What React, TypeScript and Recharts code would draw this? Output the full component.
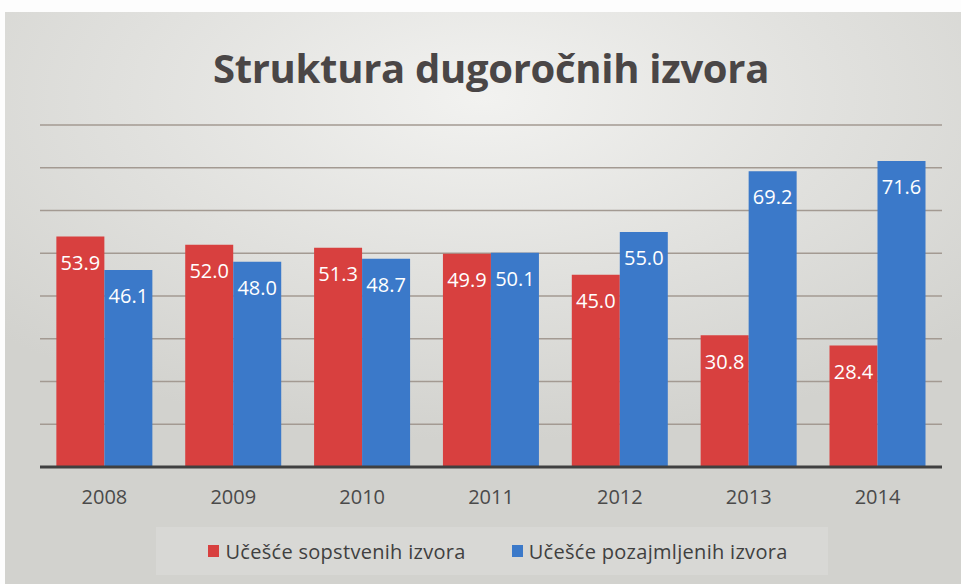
import React from "react";
import { BarChart, Bar, XAxis, YAxis, CartesianGrid, Legend, LabelList } from "recharts";

const years = ["2008", "2009", "2010", "2011", "2012", "2013", "2014"];
const sopstveni = [53.9, 52.0, 51.3, 49.9, 45.0, 30.8, 28.4];
const pozajmljeni = [46.1, 48.0, 48.7, 50.1, 55.0, 69.2, 71.6];
const yTicks = [0, 10, 20, 30, 40, 50, 60, 70, 80];
const seriesNames = ["Učešće sopstvenih izvora", "Učešće pozajmljenih izvora"];
const title = "Struktura dugoročnih izvora";

const RED = "#d8403f";
const BLUE = "#3b79c9";

const data = years.map((y, i) => ({ year: y, s: sopstveni[i], p: pozajmljeni[i] }));

const LegendContent = () => (
  <div style={{ width: 961, height: 48, position: "relative" }}>
    <div
      style={{
        position: "absolute",
        left: 156,
        width: 672,
        height: 48,
        background: "rgba(255,255,255,0.14)",
        display: "flex",
        alignItems: "center",
        justifyContent: "center",
        fontFamily: "'Open Sans', sans-serif",
        fontSize: 20,
        color: "#404040",
        gap: 46,
        paddingLeft: 12,
        boxSizing: "border-box",
      }}
    >
      {[RED, BLUE].map((c, i) => (
        <div key={i} style={{ display: "flex", alignItems: "center" }}>
          <div style={{ width: 11, height: 12, background: c, marginRight: 6 }} />
          <span style={{ letterSpacing: 0.3 }}>{seriesNames[i]}</span>
        </div>
      ))}
    </div>
  </div>
);

export default function App() {
  return (
    <div
      style={{
        position: "absolute",
        left: 0,
        top: 0,
        width: 961,
        height: 584,
        background: "#fdfdfd",
        overflow: "hidden",
      }}
    >
      <div
        style={{
          position: "absolute",
          left: 5,
          top: 12,
          width: 956,
          height: 572,
          background:
            "radial-gradient(ellipse 70% 60% at 50% 15%, #f2f2f0 0%, #e0e0dd 55%, #d2d2ce 100%)",
        }}
      />
      <div
        style={{
          position: "absolute",
          left: 0,
          top: 40,
          width: 982,
          textAlign: "center",
          fontFamily: "'Open Sans', sans-serif",
          fontWeight: 700,
          fontSize: 40,
          color: "#4a4646",
          letterSpacing: -0.3,
        }}
      >
        {title}
      </div>
      <div style={{ position: "absolute", left: 0, top: 0 }}>
        <BarChart
          width={961}
          height={584}
          data={data}
          margin={{ top: 125, right: 19, left: 40, bottom: 9 }}
          barCategoryGap="12.7%"
          barGap={0}
        >
          <CartesianGrid vertical={false} stroke="#a39a92" strokeWidth={1.5} />
          <YAxis hide domain={[0, 80]} ticks={yTicks} />
          <XAxis
            dataKey="year"
            height={60}
            tickLine={false}
            tickSize={0}
            tickMargin={23}
            axisLine={{ stroke: "#404040", strokeWidth: 3 }}
            tick={{ fill: "#4a4a4a", fontSize: 20, fontFamily: "'Open Sans', sans-serif" }}
          />
          <Legend verticalAlign="bottom" content={<LegendContent />} wrapperStyle={{ left: 0, width: 961 }} />
          <Bar dataKey="s" fill={RED} isAnimationActive={false} name={seriesNames[0]}>
            <LabelList
              dataKey="s"
              position="insideTop"
              offset={19}
              formatter={(v: number) => v.toFixed(1)}
              style={{ fill: "#ffffff", fontSize: 20, fontFamily: "'Open Sans', sans-serif" }}
            />
          </Bar>
          <Bar dataKey="p" fill={BLUE} isAnimationActive={false} name={seriesNames[1]}>
            <LabelList
              dataKey="p"
              position="insideTop"
              offset={19}
              formatter={(v: number) => v.toFixed(1)}
              style={{ fill: "#ffffff", fontSize: 20, fontFamily: "'Open Sans', sans-serif" }}
            />
          </Bar>
        </BarChart>
      </div>
    </div>
  );
}
